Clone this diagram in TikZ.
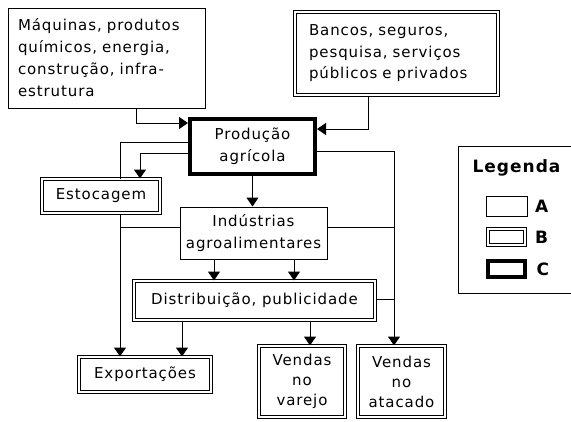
\documentclass[tikz,border=0pt]{standalone}
\usepackage{fontspec}
\setmainfont{DejaVu Sans}[LetterSpace=6]
\usetikzlibrary{arrows.meta}
\begin{document}
\begin{tikzpicture}[x=1pt,y=-1pt,
    font=\fontsize{15}{22}\selectfont,
    boxa/.style={draw,line width=1pt,inner sep=0pt,fill=white},
    boxb/.style={draw,double,double distance=2pt,line width=1pt,inner sep=0pt},
    boxc/.style={draw,line width=4pt,inner sep=0pt,fill=white},
    arr/.style={-{Triangle[width=12pt,length=9pt]},line width=1pt},
    ln/.style={line width=1pt}]
    \def\xleft{120}
    \def\xright{394}
    \fill[white] (0,0) rectangle (571,421);
    \clip (0,0) rectangle (571,421);

    % inputs
    \node[boxa,minimum width=197pt,minimum height=100pt,text width=177pt,align=left] (maq) at (106.5,58) {Máquinas, produtos\\químicos, energia,\\construção, infra-\\estrutura};
    \node[boxb,minimum width=203pt,minimum height=83pt,text width=175pt,align=left,font=\fontsize{15}{21.5}\selectfont] (banc) at (396.5,53.5) {Bancos, seguros,\\pesquisa, serviços\\públicos e privados};

    % chain
    \node[boxc,minimum width=125pt,minimum height=55pt,align=center] (prod) at (252.5,146.5) {Produção\\agrícola};
    \node[boxb,minimum width=118pt,minimum height=34pt] (estoc) at (101,196) {Estocagem};
    \node[boxa,minimum width=147pt,minimum height=52pt,align=center] (ind) at (253.5,233) {Indústrias\\agroalimentares};
    \node[boxb,minimum width=241pt,minimum height=39pt] (dist) at (254.5,300.5) {Distribuição, publicidade};
    \node[boxb,minimum width=132pt,minimum height=35pt] (exp) at (145,374.5) {Exportações};
    \node[boxb,minimum width=86pt,minimum height=71pt,align=center,font=\fontsize{15}{20}\selectfont] (varejo) at (302,381.5) {Vendas\\no\\varejo};
    \node[boxb,minimum width=87pt,minimum height=71pt,align=center,font=\fontsize{15}{20}\selectfont] (atac) at (401.5,381.5) {Vendas\\no\\atacado};

    % connectors
    \draw[arr] (maq.south -| 136,0) |- (prod.west |- 0,123);
    \draw[arr] (banc.south -| 368,0) |- (prod.east |- 0,129);
    \draw[ln] (prod.west |- 0,142) -| (estoc.north -| \xleft,0);
    \draw[arr] (prod.west |- 0,153) -| (estoc.north -| 140,0);
    \draw[arr] (estoc.south -| \xleft,0) -- (exp.north -| \xleft,0);
    \draw[arr] (prod.south) -- (ind.north -| prod.south);
    \draw[ln] (ind.west |- 0,227) -- (\xleft,227);
    \draw[arr] (prod.east |- 0,151) -| (atac.north -| \xright,0);
    \draw[ln] (ind.east |- 0,227) -- (\xright,227);
    \draw[ln] (dist.east |- 0,299) -- (\xright,299);
    \draw[arr] (ind.south -| 214,0) -- (dist.north -| 214,0);
    \draw[arr] (ind.south -| 294,0) -- (dist.north -| 294,0);
    \draw[arr] (dist.south -| 182,0) -- (exp.north -| 182,0);
    \draw[arr] (dist.south -| 310,0) -- (varejo.north -| 310,0);

    % legend
    \node[draw,line width=1pt,minimum width=120pt,minimum height=147pt] (leg) at (518,219.5) {};
    \node[font=\fontsize{17}{18}\selectfont\bfseries] (legtitle) at (516.5,168) {Legenda};
    \node[boxa,minimum width=41pt,minimum height=20pt] (la) at (506.5,206) {};
    \node[boxb,minimum width=37pt,minimum height=16pt] (lb) at (506.5,237) {};
    \node[boxc,minimum width=37pt,minimum height=16pt] (lc) at (506.5,269) {};
    \node[font=\fontsize{17}{18}\selectfont\bfseries,right=4pt] at (la.east) {A};
    \node[font=\fontsize{17}{18}\selectfont\bfseries,right=6pt] at (lb.east) {B};
    \node[font=\fontsize{17}{18}\selectfont\bfseries,right=6pt] at (lc.east) {C};
\end{tikzpicture}
\end{document}
